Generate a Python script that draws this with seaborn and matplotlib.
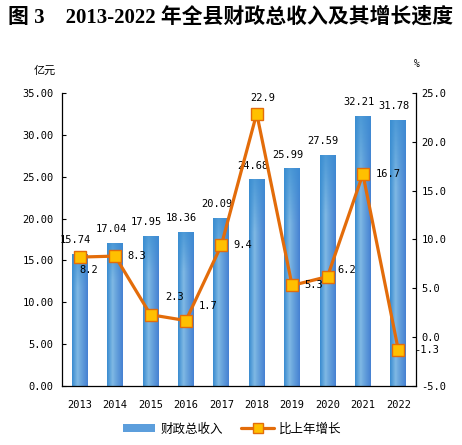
import numpy as np
import pandas as pd
import matplotlib
matplotlib.use("Agg")
import matplotlib.pyplot as plt
import seaborn as sns
from matplotlib.colors import to_rgb
from matplotlib.patches import Patch
from matplotlib.lines import Line2D

years = ['2013', '2014', '2015', '2016', '2017', '2018', '2019', '2020', '2021', '2022']
revenue = [15.74, 17.04, 17.95, 18.36, 20.09, 24.68, 25.99, 27.59, 32.21, 31.78]
growth = [8.2, 8.3, 2.3, 1.7, 9.4, 22.9, 5.3, 6.2, 16.7, -1.3]

df = pd.DataFrame({'year': years, 'revenue': revenue, 'growth': growth})

sns.set_style('white')
plt.rcParams['font.family'] = ['DejaVu Sans', 'Noto Sans CJK SC']
plt.rcParams['text.color'] = 'black'
plt.rcParams['xtick.color'] = 'black'
plt.rcParams['ytick.color'] = 'black'
plt.rcParams['xtick.labelcolor'] = 'black'
plt.rcParams['ytick.labelcolor'] = 'black'
num_font = 'DejaVu Sans Mono'
cjk = ['Noto Sans CJK SC', 'DejaVu Sans']

orange = '#E36C0A'
gold = '#FFC000'

fig = plt.figure(figsize=(4.62, 4.45), dpi=100)
ax = fig.add_axes([62 / 462, 1 - 386 / 445, (416 - 62) / 462, (386 - 93) / 445])

sns.barplot(data=df, x='year', y='revenue', ax=ax, width=0.45,
            color='#4A90D5', saturation=1, edgecolor='none')

# horizontal "cylinder" gradient on each bar
stops = [0.0, 0.35, 0.55, 1.0]
cols = np.array([to_rgb(c) for c in ['#3A8CD0', '#80B9E4', '#6AA6DD', '#4681D2']])
xs = np.linspace(0, 1, 40)
row = np.stack([np.interp(xs, stops, cols[:, k]) for k in range(3)], axis=-1)
ny = 60
grad = np.repeat(row[None, :, :], ny, axis=0)
top = np.array(to_rgb('#3A8ED2'))
w = np.clip(1 - np.linspace(0, 1, ny) / 0.25, 0, 1)[:, None, None] * 0.7
grad = grad * (1 - w) + top * w
for p in ax.patches:
    x0, h, bw = p.get_x(), p.get_height(), p.get_width()
    im = ax.imshow(grad, extent=[x0, x0 + bw, 0, h], aspect='auto',
                   origin='upper', zorder=p.get_zorder() + 0.1)
    im.set_clip_path(p)

for i, v in enumerate(revenue):
    ax.annotate(f'{v:.2f}', (i, v), xytext=(-3, 10), textcoords='offset points',
                ha='center', va='center', fontsize=7.5, family=num_font)

ax.set_xlim(-0.5, 9.5)
ax.set_ylim(0, 35)
ax.set_yticks(np.arange(0, 35.1, 5))
ax.set_yticklabels([f'{t:.2f}' for t in np.arange(0, 35.1, 5)], family=num_font, fontsize=7.5)
ax.set_xticks(range(len(years)))
ax.set_xticklabels(years, family=num_font, fontsize=7.5)
ax.set_xticks(np.arange(-0.5, 9.6, 1), minor=True)
ax.tick_params(axis='x', which='major', length=0, pad=10)
ax.tick_params(axis='x', which='minor', direction='in', length=5, width=0.8, color='black')
ax.tick_params(axis='y', direction='in', length=3, width=0.8, pad=6, left=True)
ax.set_xlabel('')
ax.set_ylabel('')
for s in ['left', 'bottom']:
    ax.spines[s].set_color('black')
    ax.spines[s].set_linewidth(0.9)
ax.spines['top'].set_visible(False)
ax.spines['right'].set_visible(False)

ax2 = ax.twinx()
sns.lineplot(x=np.arange(len(years)), y=growth, ax=ax2, color=orange, linewidth=2.3,
             marker='s', markersize=8, markerfacecolor=gold, markeredgecolor=orange,
             markeredgewidth=1.0, zorder=5)
ax2.set_ylim(-5, 25)
ax2.set_yticks(np.arange(-5, 25.1, 5))
ax2.set_yticklabels([f'{t:.1f}' for t in np.arange(-5, 25.1, 5)], family=num_font, fontsize=7.5)
ax2.tick_params(axis='y', direction='in', length=3, width=0.8, pad=4, right=True)
ax2.set_xlim(-0.5, 9.5)
for s in ['top', 'left', 'bottom']:
    ax2.spines[s].set_visible(False)
ax2.spines['right'].set_color('black')
ax2.spines['right'].set_linewidth(0.9)

label_offsets = [(9, -13), (22, 0), (24, 18), (22, 15), (21, 0),
                 (6, 16), (22, 0), (19, 7), (25, 0), (28, 0)]
for i, (v, (dx, dy)) in enumerate(zip(growth, label_offsets)):
    ax2.annotate(f'{v:.1f}', (i, v), xytext=(dx * 0.72, dy * 0.72), textcoords='offset points',
                 ha='center', va='center', fontsize=7.5, family=num_font, zorder=6)

fig.text(0.5, 1 - 17 / 445, '图 3    2013-2022 年全县财政总收入及其增长速度',
         ha='center', va='center', fontsize=15, fontweight='bold',
         family=['Liberation Serif', 'Noto Sans CJK SC'])
fig.text(45 / 462, 1 - 71 / 445, '亿元', ha='center', va='center', fontsize=8, family=cjk)
fig.text(417 / 462, 1 - 64 / 445, '%', ha='center', va='center', fontsize=7, family=num_font)

handles = [Patch(facecolor='#5C9EDC', edgecolor='none'),
           Line2D([0], [0], color=orange, linewidth=2.3, marker='s', markersize=7,
                  markerfacecolor=gold, markeredgecolor=orange)]
fig.legend(handles, ['财政总收入', '比上年增长'], loc='center', ncol=2,
           bbox_to_anchor=(232 / 462, 1 - 429 / 445), frameon=False,
           prop={'family': cjk, 'size': 9}, handlelength=2.6, handleheight=0.6,
           columnspacing=1.5, handletextpad=0.4)

fig.savefig('out.png', dpi=100)
